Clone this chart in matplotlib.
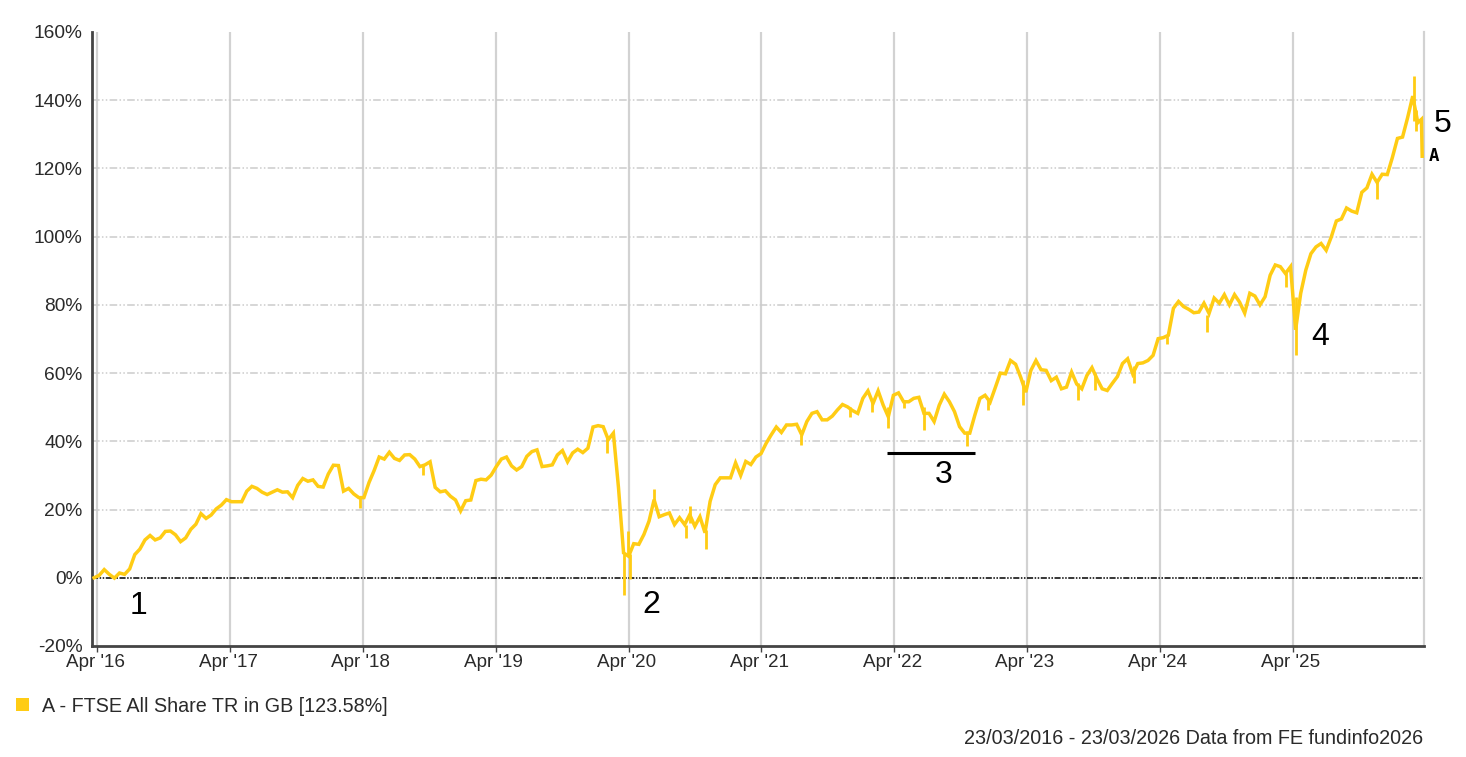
import matplotlib
matplotlib.use('Agg')
import matplotlib.pyplot as plt
import matplotlib.dates as mdates
import matplotlib.transforms as mtrans
import numpy as np
import pandas as pd
from matplotlib.patches import Rectangle

plt.rcParams['font.family'] = ['Liberation Sans', 'DejaVu Sans']

start = '2016-03-23'

# fortnightly index level, % growth
values = [
    0, 0.7, 2.4, 1.0, -0.1, 1.4, 1.0, 2.6, 6.8, 8.4,
    11.1, 12.4, 11.1, 11.7, 13.6, 13.7, 12.6, 10.6, 11.7, 14.2,
    15.7, 18.8, 17.4, 18.4, 20.2, 21.3, 22.9, 22.3, 22.3, 22.3,
    25.4, 26.8, 26.2, 25.1, 24.4, 25.1, 25.8, 25.1, 25.2, 23.5,
    27.1, 29.1, 28.3, 28.7, 26.8, 26.6, 30.4, 33.0, 32.9, 25.4,
    26.2, 24.6, 23.5, 23.5, 27.9, 31.4, 35.4, 34.8, 36.8, 35.0,
    34.4, 36.0, 36.1, 34.8, 32.6, 33.1, 34.0, 26.5, 25.2, 25.5,
    23.9, 22.8, 19.6, 22.6, 22.8, 28.5, 28.9, 28.7, 30.1, 32.6,
    34.8, 35.4, 32.8, 31.6, 32.6, 35.6, 37.0, 37.5, 32.6, 32.8,
    33.1, 36.0, 37.3, 34.0, 36.6, 37.7, 36.7, 38.0, 44.2, 44.6,
    44.3, 40.5, 42.4, 26.5, 7.3, 6.3, 10.0, 9.8, 12.7, 16.6,
    22.9, 17.9, 18.5, 19.0, 15.6, 17.6, 15.6, 18.5, 15.1, 17.9,
    13.2, 22.4, 27.3, 29.3, 29.3, 29.3, 33.7, 30.0, 34.1, 33.2,
    35.4, 36.4, 39.4, 41.9, 44.2, 42.6, 44.8, 44.8, 45.0, 41.9,
    45.8, 48.2, 48.7, 46.3, 46.3, 47.4, 49.2, 50.8, 50.1, 49.0,
    48.2, 52.6, 54.8, 51.1, 54.8, 50.6, 47.2, 53.5, 54.2, 51.6,
    51.6, 52.6, 52.9, 48.2, 48.2, 45.8, 50.6, 53.8, 51.6, 48.7,
    44.3, 42.4, 42.4, 47.7, 52.6, 53.5, 51.5, 55.7, 60.0, 59.8,
    63.7, 62.6, 58.8, 54.4, 60.8, 63.7, 61.0, 60.8, 57.8, 58.8,
    55.4, 55.9, 60.3, 56.8, 55.4, 59.3, 61.6, 58.3, 55.4, 54.9,
    57.0, 59.0, 62.8, 64.2, 59.8, 62.8, 63.0, 63.7, 65.2, 70.1,
    70.4, 71.1, 79.0, 81.0, 79.5, 78.7, 77.7, 77.9, 80.5, 77.5,
    82.0, 80.5, 83.0, 80.0, 83.0, 80.8, 77.6, 83.4, 82.6, 80.0,
    82.4, 88.7, 91.7, 91.2, 89.2, 91.2, 72.7, 83.4, 90.2, 95.0,
    97.0, 98.0, 96.0, 99.9, 104.6, 105.2, 108.4, 107.5, 107.0, 113.0,
    114.3, 118.3, 115.9, 118.3, 118.2, 123.2, 128.8, 129.2, 134.9, 141.2,
    133.4,
]
last_dates = ['2026-03-21', '2026-03-23']
last_values = [134.4, 123.58]

# short-lived daily moves that the fortnightly readings miss
spike_dates = ['2018-03-25', '2018-09-13', '2020-02-02', '2020-03-20', '2020-03-29',
               '2020-04-06', '2020-06-10', '2020-09-05', '2020-09-16', '2020-11-01',
               '2021-07-19', '2021-11-30', '2022-01-29', '2022-03-14', '2022-04-28',
               '2022-06-22', '2022-10-19', '2022-12-16', '2023-03-20', '2023-08-20',
               '2023-10-05', '2024-01-21', '2024-04-19', '2024-08-07', '2025-03-13',
               '2025-04-10', '2025-11-19', '2026-02-28', '2026-03-05']
spike_lows = [20.5, 30.1, 36.5, -5, 7, -0.5, 22, 11.7, 16, 8.3,
              39, 47.2, 48.7, 43.9, 49.7,
              43.4, 38.6, 49.2, 50.7, 52.1,
              55, 57, 68.5, 72.1, 85.1,
              65.4, 111, 134, 131]
spike_highs = [24, 33, 41, 7, 13.7, 7, 25.9, 15.6, 21, 14,
               42, 50, 52, 50, 52,
               50, 43, 52, 58, 57,
               60, 62, 71, 77, 90,
               82.4, 117, 147, 137]

year_ticks = pd.to_datetime(['%d-04-01' % y for y in range(2016, 2026)])
year_labels = ["Apr '%02d" % (y % 100) for y in range(16, 26)]
pct_ticks = np.arange(-20, 180, 20)

line_col = '#FFCC14'
text_col = '#2a2a2a'

dates = pd.date_range(start, periods=len(values), freq='14D')
dates = dates.append(pd.to_datetime(last_dates))
series = np.array(values + last_values)

fig = plt.figure(figsize=(14.66, 7.57), dpi=100)
W, H = 1466.0, 757.0
ax = fig.add_axes((91.5 / W, 1 - 646 / H, (1424 - 91.5) / W, (646 - 32) / H))

ax.set_ylim(-20, 160)
ax.set_xlim(pd.Timestamp(start) - pd.Timedelta(days=7), pd.Timestamp(start) + pd.Timedelta(days=3657))

for t in year_ticks:
    ax.axvline(t, color='#d2d2d2', lw=1.6, zorder=1)
for p in pct_ticks[1:-1]:
    if p != 0:
        ax.axhline(p, color='#cccccc', lw=1.1, dashes=(5, 1.5, 1, 1.5, 1, 1.5), zorder=1)
ax.axhline(0, color='black', lw=1.1, dashes=(4, 1, 1, 1, 1, 1), zorder=2)

ax.plot(dates, series, color=line_col, lw=2.5, solid_joinstyle='miter', zorder=3)
ax.vlines(pd.to_datetime(spike_dates), spike_lows, spike_highs, color=line_col, lw=2, zorder=3)

ax.spines['top'].set_visible(False)
ax.spines['right'].set_color('#d2d2d2')
ax.spines['right'].set_linewidth(1.6)
ax.spines['left'].set_color('#444444')
ax.spines['left'].set_linewidth(2)
ax.spines['bottom'].set_color('#444444')
ax.spines['bottom'].set_linewidth(2)

ax.set_yticks(pct_ticks)
ax.set_yticklabels(['%d%%' % p for p in pct_ticks], fontsize=13.8, color=text_col)
ax.tick_params(axis='y', length=0, pad=6.5)
ax.xaxis.set_major_locator(plt.FixedLocator(mdates.date2num(year_ticks)))
ax.xaxis.set_major_formatter(plt.FixedFormatter(year_labels))
ax.tick_params(axis='x', length=4, width=1, color='#444444', pad=2, labelsize=13.6, labelcolor=text_col)
shift = mtrans.ScaledTranslation(-2 / 100, 0, fig.dpi_scale_trans)
for lab in ax.get_xticklabels():
    lab.set_transform(lab.get_transform() + shift)

# underline beside number 3
ax.hlines(36.6, pd.Timestamp('2022-03-12'), pd.Timestamp('2022-11-09'), color='black', lw=2.2, zorder=4)

# hand-added numbers
notes = ['1', '2', '3', '4', '5']
note_x = [139, 651, 944, 1320, 1443]
note_y = [606, 605, 475, 337, 124]
for n, x, y in zip(notes, note_x, note_y):
    fig.text(x / W, 1 - y / H, n, fontsize=23, color='black', ha='center', va='center')

fig.text(1434 / W, 1 - 156 / H, 'A', fontsize=12.5, fontweight='bold', color='black',
         ha='center', va='center', family='DejaVu Sans Mono')

fig.add_artist(Rectangle((16 / W, 1 - 711 / H), 13 / W, 13 / H, transform=fig.transFigure,
                         facecolor=line_col, edgecolor='none'))
fig.text(42 / W, 1 - 707 / H, 'A - FTSE All Share TR in GB [123.58%]', fontsize=14.25,
         color=text_col, ha='left', va='center')
fig.text(1423 / W, 1 - 738 / H, '23/03/2016 - 23/03/2026 Data from FE fundinfo2026',
         fontsize=14.25, color=text_col, ha='right', va='center')

fig.savefig('out.png', dpi=100)
plt.close(fig)
